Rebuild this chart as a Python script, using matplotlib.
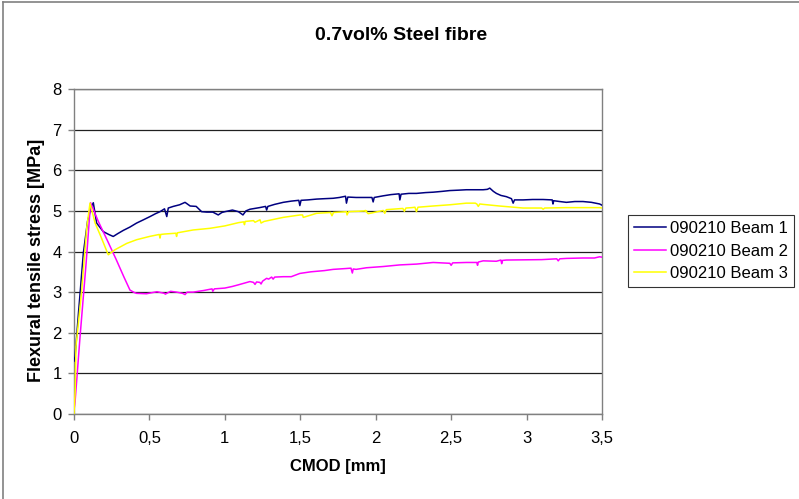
import matplotlib
matplotlib.use("Agg")
import matplotlib.pyplot as plt
from matplotlib.ticker import FuncFormatter, MultipleLocator
from matplotlib.lines import Line2D

plt.rcParams['font.family'] = ['Liberation Sans', 'DejaVu Sans']

title = "0.7vol% Steel fibre"
x_label = "CMOD [mm]"
y_label = "Flexural tensile stress [MPa]"
series_names = ["090210 Beam 1", "090210 Beam 2", "090210 Beam 3"]
series_colors = ["#000080", "#FF00FF", "#FFFF00"]

# Beam 1
cmod_b1 = [0.0, 0.007, 0.03, 0.062, 0.09, 0.115, 0.128, 0.15, 0.175, 0.194, 0.23, 0.26,
           0.29, 0.327, 0.37, 0.415, 0.46, 0.504, 0.54, 0.57, 0.60, 0.615, 0.625, 0.658,
           0.70, 0.736, 0.77, 0.81, 0.846, 0.88, 0.92, 0.956, 0.98, 1.0, 1.05, 1.09,
           1.12, 1.14, 1.166, 1.23, 1.27, 1.277, 1.285, 1.33, 1.387, 1.44, 1.49, 1.497,
           1.505, 1.55, 1.608, 1.66, 1.718, 1.76, 1.80, 1.806, 1.815, 1.87, 1.939,
           1.975, 1.983, 1.99, 2.049, 2.10, 2.155, 2.160, 2.168, 2.22, 2.270, 2.33,
           2.381, 2.44, 2.491, 2.55, 2.601, 2.66, 2.712, 2.74, 2.756, 2.78, 2.80, 2.83,
           2.866, 2.90, 2.911, 2.92, 2.977, 3.04, 3.109, 3.17, 3.175, 3.18, 3.22, 3.264,
           3.32, 3.374, 3.43, 3.484, 3.5]
stress_b1 = [1.3, 1.41, 2.5, 3.96, 4.75, 5.1, 5.2, 4.7, 4.58, 4.49, 4.42, 4.37,
             4.44, 4.52, 4.6, 4.70, 4.78, 4.86, 4.93, 4.98, 5.05, 4.86, 5.07, 5.11,
             5.15, 5.21, 5.12, 5.11, 4.98, 4.97, 4.97, 4.90, 4.96, 4.98, 5.02, 4.98,
             4.90, 5.0, 5.04, 5.08, 5.11, 5.02, 5.11, 5.16, 5.21, 5.24, 5.26, 5.13,
             5.26, 5.27, 5.29, 5.30, 5.31, 5.33, 5.36, 5.19, 5.34, 5.33, 5.33,
             5.33, 5.22, 5.33, 5.37, 5.40, 5.42, 5.27, 5.41, 5.43, 5.43, 5.45,
             5.46, 5.48, 5.50, 5.51, 5.52, 5.52, 5.52, 5.53, 5.56, 5.48, 5.43, 5.38,
             5.35, 5.30, 5.19, 5.27, 5.27, 5.28, 5.28, 5.27, 5.17, 5.25, 5.23, 5.21,
             5.23, 5.23, 5.21, 5.17, 5.14]

# Beam 2
cmod_b2 = [0.0, 0.007, 0.04, 0.08, 0.11, 0.16, 0.22, 0.28, 0.33, 0.371, 0.40, 0.415,
           0.48, 0.55, 0.60, 0.605, 0.64, 0.68, 0.72, 0.736, 0.75, 0.79, 0.86, 0.915,
           0.92, 0.93, 1.0, 1.05, 1.09, 1.166, 1.19, 1.20, 1.21, 1.232, 1.24, 1.25,
           1.277, 1.29, 1.31, 1.32, 1.33, 1.387, 1.44, 1.497, 1.57, 1.66, 1.718, 1.80,
           1.836, 1.845, 1.851, 1.87, 1.939, 2.049, 2.160, 2.270, 2.381, 2.491, 2.50,
           2.51, 2.601, 2.67, 2.675, 2.68, 2.712, 2.80, 2.83, 2.835, 2.84, 2.866, 3.10,
           3.20, 3.21, 3.22, 3.264, 3.374, 3.45, 3.484, 3.5]
stress_b2 = [0.1, 0.30, 1.9, 3.7, 5.2, 4.75, 4.28, 3.80, 3.38, 3.05, 2.99, 2.97,
             2.96, 3.01, 2.97, 2.95, 3.02, 3.00, 2.97, 2.94, 3.0, 3.00, 3.04, 3.08,
             3.02, 3.08, 3.10, 3.14, 3.18, 3.26, 3.24, 3.19, 3.25, 3.24, 3.20, 3.27,
             3.34, 3.32, 3.37, 3.32, 3.37, 3.38, 3.38, 3.46, 3.50, 3.53, 3.56, 3.58,
             3.59, 3.47, 3.57, 3.56, 3.60, 3.63, 3.67, 3.69, 3.73, 3.71, 3.66,
             3.72, 3.73, 3.73, 3.66, 3.74, 3.77, 3.76, 3.79, 3.70, 3.78, 3.79, 3.80,
             3.82, 3.77, 3.82, 3.83, 3.84, 3.84, 3.87, 3.86]

# Beam 3
cmod_b3 = [0.0, 0.008, 0.013, 0.05, 0.085, 0.106, 0.14, 0.18, 0.227, 0.27, 0.35,
           0.415, 0.50, 0.565, 0.57, 0.575, 0.60, 0.675, 0.68, 0.685, 0.79, 0.90, 1.0,
           1.09, 1.125, 1.13, 1.135, 1.19, 1.20, 1.233, 1.24, 1.26, 1.387, 1.50,
           1.515, 1.52, 1.608, 1.70, 1.71, 1.72, 1.806, 1.81, 1.82, 1.94, 1.93,
           1.95, 2.05, 2.06, 2.07, 2.18, 2.19, 2.20, 2.24, 2.26, 2.27, 2.28, 2.38,
           2.491, 2.601, 2.66, 2.67, 2.68, 2.69, 2.712, 2.82, 2.977, 3.05, 3.10,
           3.11, 3.12, 3.264, 3.40, 3.484, 3.5]
stress_b3 = [0.0, 0.6, 1.66, 3.0, 4.6, 5.19, 4.7, 4.35, 3.92, 4.04, 4.20,
             4.29, 4.37, 4.42, 4.33, 4.42, 4.43, 4.45, 4.37, 4.46, 4.53, 4.57, 4.63,
             4.71, 4.73, 4.66, 4.74, 4.76, 4.72, 4.78, 4.70, 4.74, 4.84, 4.90,
             4.90, 4.84, 4.94, 4.96, 4.88, 4.96, 4.98, 4.90, 4.98, 5.00, 5.01,
             4.93, 5.01, 4.94, 5.03, 5.06, 4.99, 5.07, 5.08, 5.09, 4.98, 5.09, 5.12,
             5.15, 5.19, 5.19, 5.17, 5.11, 5.17, 5.16, 5.12, 5.07, 5.07, 5.07,
             5.04, 5.07, 5.08, 5.08, 5.08, 5.07]

W, H = 799, 499
fig = plt.figure(figsize=(W / 100, H / 100), dpi=100)
ax = fig.add_axes([74 / W, 1 - 414 / H, (602 - 74) / W, (414 - 89) / H])

for xs, ys, name, color in zip([cmod_b1, cmod_b2, cmod_b3],
                               [stress_b1, stress_b2, stress_b3],
                               series_names, series_colors):
    ax.plot(xs, ys, color=color, lw=1.1, label=name, zorder=3)

ax.set_xlim(0, 3.5)
ax.set_ylim(0, 8)
ax.xaxis.set_major_locator(MultipleLocator(0.5))
ax.yaxis.set_major_locator(MultipleLocator(1))
comma = FuncFormatter(lambda v, p: f"{v:g}".replace('.', ','))
ax.xaxis.set_major_formatter(comma)
ax.yaxis.set_major_formatter(comma)

ax.grid(axis='y', color='#202020', lw=0.9, zorder=1)
for side in ['left', 'right', 'top', 'bottom']:
    ax.spines[side].set_color('#808080')
    ax.spines[side].set_linewidth(1.0)
ax.tick_params(axis='both', direction='out', length=4, width=1, color='#808080',
               labelsize=12)
ax.tick_params(axis='x', pad=8)
ax.tick_params(axis='y', pad=5)

fig.text(401 / W, 1 - 36 / H, title, ha='center', va='center',
         fontsize=14, fontweight='bold')
fig.text(338 / W, 1 - 467 / H, x_label, ha='center', va='center',
         fontsize=12, fontweight='bold')
fig.text(37 / W, 1 - 260 / H, y_label, ha='center', va='center',
         rotation=90, fontsize=13, fontweight='bold')

leg = fig.legend(loc='center left', bbox_to_anchor=(628 / W, 1 - 251 / H),
                 fontsize=12, frameon=True, fancybox=False, shadow=False,
                 handlelength=1.9, handletextpad=0.25, borderpad=0.35,
                 labelspacing=0.45, borderaxespad=0)
leg.get_frame().set_edgecolor('#000000')
leg.get_frame().set_linewidth(0.8)

# outer chart frame
fig.add_artist(Line2D([2.5 / W, 2.5 / W], [0, 1 - 1.5 / H], transform=fig.transFigure,
                      color='#808080', lw=1.2))
fig.add_artist(Line2D([2.5 / W, 1], [1 - 1.5 / H, 1 - 1.5 / H], transform=fig.transFigure,
                      color='#808080', lw=1.2))

fig.savefig("out.png", dpi=100)
